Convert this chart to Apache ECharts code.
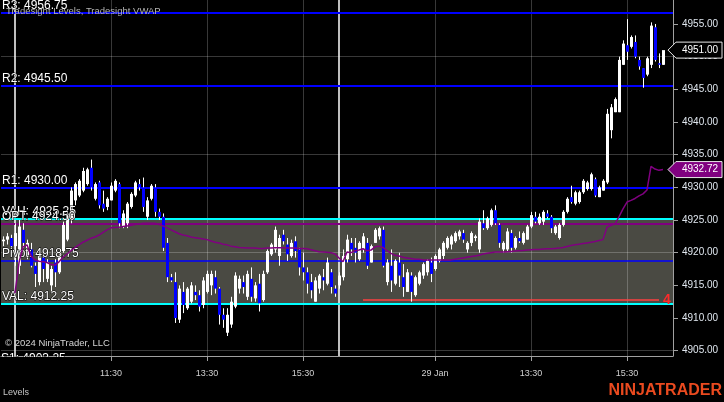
<!DOCTYPE html>
<html><head><meta charset="utf-8">
<script src="https://cdn.jsdelivr.net/npm/echarts@6/dist/echarts.min.js"></script>
<style>html,body{margin:0;padding:0;background:#000;}#c{width:724px;height:402px;}</style>
</head><body><div id="c"></div>
<script>
// [open, high, low, close] per 5-minute bar
const ohlc = [
[4921.75,4922.5,4921,4922],[4922,4923,4921.25,4922.5],[4922.25,4922.75,4920.5,4921],[4921,4924.5,4918,4923],
[4918,4925,4916.75,4924],[4923.5,4924.5,4920.75,4921.5],[4919.5,4922,4919,4921.5],[4920.5,4921.5,4917.75,4918],
[4918,4918.5,4914.75,4916.75],[4915.5,4920,4915,4919.5],[4919.25,4920,4915.5,4917.5],[4916,4919,4915.5,4918.5],
[4915,4918,4914,4917.5],[4918.5,4919,4914.75,4917],[4917,4919.75,4916.75,4919.5],[4920.25,4924.75,4920,4924.25],
[4922,4926.5,4921.75,4926],[4925,4930,4924.5,4929.5],[4928,4930.75,4927.25,4930.5],[4928.75,4931.25,4928.5,4931],
[4929.5,4933,4929.25,4932.5],[4930.5,4933,4930.25,4932.75],[4933,4934.25,4929.5,4930],[4928.25,4930.75,4928,4930.5],
[4930.75,4931,4926.75,4927.25],[4927.5,4929.5,4926.25,4926.75],[4927,4928.5,4926.5,4928.25],[4928,4930.75,4928,4930.25],
[4929.5,4931.25,4929.25,4931],[4930.5,4930.75,4923.75,4924.5],[4924,4926.5,4923.75,4926],[4924.5,4927.75,4923.75,4927.5],
[4927,4929.25,4926.75,4929],[4928.75,4931,4928.5,4930.75],[4930.5,4931.25,4929.5,4930],[4930,4931.5,4926.25,4927],
[4925.5,4928.5,4925,4928],[4928.25,4930.5,4928,4930.25],[4930,4930.5,4925.5,4926.25],[4926.25,4926.75,4925,4925.5],
[4925.5,4926,4920.25,4920.75],[4921.5,4922.25,4915.5,4916.25],[4916.25,4916.75,4915.5,4915.75],[4915.5,4917,4909.25,4910],
[4909.75,4915,4909.25,4914.5],[4914,4915.5,4910.75,4912],[4911.5,4914.75,4911.25,4914.5],[4912.5,4915.5,4912.25,4915],
[4914,4915,4912.75,4913.5],[4913.5,4914.25,4911,4911.75],[4912,4916.25,4911.5,4915.75],[4914,4917.25,4913.75,4916.75],
[4915,4917.25,4913.5,4916.75],[4916.25,4917.25,4913.75,4914.5],[4914.5,4914.75,4909,4910.5],[4910.5,4911.5,4908.5,4909.75],
[4907.75,4911.5,4907.25,4910.5],[4909,4913.25,4908.5,4912.5],[4911.75,4917,4911.5,4916.5],[4914.5,4916.5,4913.75,4916],
[4915.5,4916.5,4913.75,4914.75],[4913.25,4917.25,4912.75,4916.75],[4916,4917.75,4912.5,4913.25],[4913,4915.5,4912.5,4915],
[4915.25,4916.75,4911,4912.25],[4912.75,4917.25,4912.5,4916.75],[4917,4920.5,4916.75,4920.25],[4919.75,4921.5,4919.5,4921.25],
[4920.5,4924,4920,4923.5],[4919.5,4922.75,4918,4922.25],[4922.75,4923.5,4921.25,4921.75],[4921.25,4922.25,4918.75,4919.75],
[4919.5,4922,4919.25,4921.5],[4921.75,4922.5,4919.25,4920.25],[4920.5,4920.75,4916.5,4917.75],[4917.75,4920,4915.75,4917],
[4917,4917.75,4913.75,4915.25],[4915.5,4916.75,4913,4914.25],[4912.5,4916.25,4912.5,4915.75],[4914.5,4916.75,4913.75,4916.5],
[4916.25,4917.5,4914.25,4915.75],[4915.25,4919.25,4915,4918.5],[4917,4917.5,4913.75,4914.75],[4914.5,4915,4913.25,4913.75],
[4915,4917,4914.5,4916.5],[4916.25,4920.5,4915.75,4919.5],[4919,4922.75,4918.5,4922],[4921.5,4922.25,4919.5,4920.5],
[4920.75,4922.25,4918.5,4920],[4919,4921.75,4918.75,4921.5],[4920.5,4923,4920,4922.5],[4921.5,4922.25,4917.5,4918],
[4918.5,4921.25,4918.5,4921],[4921.5,4923.75,4921.5,4923.5],[4922.5,4924,4922,4923.75],[4923.5,4924,4917.75,4918],
[4915.5,4919,4915,4918.5],[4918,4920.5,4914,4915.75],[4915.25,4919,4915,4918.75],[4918.5,4920,4914.75,4916.5],
[4916.25,4918.25,4913.25,4914.75],[4914,4917.5,4914,4917],[4916.5,4917,4912.5,4914],[4913.5,4916.5,4913.25,4916.25],
[4915.25,4917.25,4915,4917],[4916.5,4918.5,4916,4918.25],[4917,4919,4916.5,4918.75],[4918.5,4919.25,4915.5,4916.75],
[4917.5,4919.75,4917.25,4919.5],[4918.75,4920.75,4918.5,4920.5],[4919.5,4921.75,4919,4921.5],[4920.75,4922.5,4920.5,4922.25],
[4921.25,4922.75,4920.5,4922.5],[4921.75,4923.25,4921.5,4923],[4922.5,4923.5,4922,4923.25],[4923,4923.5,4921.5,4922],
[4920.5,4921.75,4920,4921.5],[4921.5,4923.25,4921,4923],[4922.25,4922.75,4921.75,4922.5],[4920.5,4925.25,4920,4924.75],
[4924.5,4926.5,4923.5,4923.75],[4923.75,4925.5,4923.5,4925.25],[4924.25,4926.75,4924,4926.5],[4926.5,4927.25,4924.25,4924.5],
[4924.25,4924.5,4920.75,4921.5],[4920.5,4921.75,4920,4921.5],[4920.5,4923.75,4920.25,4923.25],[4923,4923.5,4920,4920.75],
[4920.75,4922.5,4920.5,4922.25],[4922.25,4923.25,4921.5,4921.75],[4921.5,4923.25,4921.25,4923],[4922,4924.25,4922,4924],
[4924,4926.25,4923.75,4925.75],[4925.5,4926.25,4924.5,4924.75],[4924.5,4926,4924.25,4925.5],[4924.75,4926.5,4924.25,4926.25],
[4926,4926.5,4925.25,4925.5],[4925.5,4925.75,4923,4923.75],[4923,4924.25,4922.75,4924],[4922.25,4924.5,4922,4924.25],
[4924.25,4926.5,4924,4926.25],[4926.25,4928.5,4926,4928.25],[4928.5,4930.25,4927.5,4927.75],[4927.5,4929.5,4927.25,4929.25],
[4927.75,4929.5,4927.5,4929.25],[4929.25,4931.25,4929,4931],[4929.75,4931,4929.5,4930.75],[4929.75,4932.25,4929.5,4932],
[4931.25,4931.5,4928.5,4928.75],[4928.5,4930.25,4928.5,4930],[4929.5,4931.25,4929.5,4931],[4930.75,4942,4930.5,4941.25],
[4938.75,4942.75,4937.5,4942.25],[4941.5,4943.75,4941.5,4943.5],[4941.5,4950,4941.5,4949.5],[4948.75,4952.5,4948.75,4952],
[4951.75,4955.75,4949.5,4950.75],[4951.5,4953.25,4951.25,4953],[4952.25,4953.25,4949.75,4950],[4949.5,4950,4948,4948.5],
[4948.25,4948.25,4945.25,4946.75],[4947.25,4950,4947,4949.75],[4948.75,4955.25,4948.25,4954.75],[4954.5,4955,4949.25,4949.5],
[4949,4950.5,4948.25,4948.75],[4948.75,4950.75,4948.75,4951]
];
const vwap = [null,null,null,
4913.8,4918.5,4920.9,4921.2,4919.5,4918.9,4918.7,4918.6,4918.5,4918.2,4918.1,4918.6,4919.3,4919.8,4920.3,4920.8,
4921.2,4921.6,4921.9,4922.2,4922.4,4922.7,4923.1,4923.5,4923.8,4923.85,4923.9,4924.0,4924.1,4924.2,4924.3,4924.4,
4924.5,4924.5,4924.5,4924.5,4924.3,4924.1,4923.8,4923.5,4923.2,4922.9,4922.7,4922.6,4922.4,4922.3,4922.2,4922.1,
4922.0,4921.8,4921.6,4921.5,4921.3,4921.2,4921.0,4920.9,4920.8,4920.75,4920.7,4920.7,4920.7,4920.65,4920.65,4920.7,
4920.7,4920.75,4920.75,4920.75,4920.7,4920.7,4920.7,4920.65,4920.65,4920.6,4920.45,4920.3,4920.15,4920.1,4920.05,4920.0,4919.8,
4919.2,4918.6,4920.1,4920.0,4920.3,4920.4,4920.6,4920.3,4920.4,4920.9,4921.0,4920.8,4920.3,4919.9,4919.6,4919.5,
4919.3,4919.2,4919.1,4919.0,4919.0,4918.9,4918.9,4918.9,4918.9,4918.9,4918.9,4918.9,4918.9,4919.0,4919.1,4919.2,
4919.3,4919.4,4919.5,4919.6,4919.8,4919.9,4920.0,4920.1,4920.1,4920.1,4920.15,4920.2,4920.25,4920.3,4920.35,4920.4,
4920.45,4920.5,4920.5,4920.55,4920.6,4920.6,4920.65,4920.7,4920.8,4920.95,4921.1,4921.2,4921.3,4921.4,4921.5,4921.6,
4921.7,4921.85,4922.0,4923.9,4924.2,4924.4,4925.5,4926.7,4927.75,4928.0,4928.3,4928.7,4929.0,4929.6,4933.2,4932.8,
4932.6,4932.72
];
const categoryCount = 168;
const tickIndex = [27, 51, 75, 108, 132, 156];
const tickLabels = ['11:30', '13:30', '15:30', '29 Jan', '13:30', '15:30'];
const priceTicks = [4905, 4910, 4915, 4920, 4925, 4930, 4935, 4940, 4945, 4950, 4955];
const gridPrices = [4950, 4935, 4920, 4905];
const levelNames = ['R3', 'R2', 'R1', 'VAH', 'OPT', 'Pivot', 'VAL'];
const levelValues = [4956.75, 4945.50, 4930.00, 4925.25, 4924.50, 4918.75, 4912.25];
const s1Name = 'S1', s1Value = 4903.25;
const sessionStarts = [3, 84];
const redLevel = 4912.75, redFrom = 90, redTo = 164;
const lastPrice = 4951.00, vwapLast = 4932.72;

const FONT = 'Liberation Sans, Arial, sans-serif';
const levelStyle = {
  R3: ['#0000ff', 2], R2: ['#0000ff', 2], R1: ['#0000ff', 2],
  VAH: ['#00ffff', 2], OPT: ['#800080', 2], Pivot: ['#0000ff', 1.5], VAL: ['#00ffff', 2]
};
const categories = Array.from({length: categoryCount}, (_, i) => i);
const showTick = (i) => tickIndex.indexOf(Number(i)) >= 0;

const chart = echarts.init(document.getElementById('c'), null, {renderer: 'canvas'});
chart.setOption({
  backgroundColor: '#000',
  animation: false,
  grid: {left: 1, top: 0, width: 672, height: 356},
  xAxis: {
    type: 'category', data: categories, boundaryGap: true,
    axisLine: {show: true, lineStyle: {color: '#a0a0a0', width: 1}},
    axisTick: {show: true, alignWithLabel: true, length: 5, interval: (i) => showTick(i), lineStyle: {color: '#a0a0a0'}},
    axisLabel: {interval: (i) => showTick(i), margin: 13, color: '#d0d0d0', fontSize: 9, fontFamily: FONT,
      formatter: (v) => { const j = tickIndex.indexOf(Number(v)); return j >= 0 ? tickLabels[j] : ''; }},
    splitLine: {show: false}
  },
  yAxis: {
    type: 'value', position: 'right', min: 4904.19, max: 4958.67, scale: true,
    axisLine: {show: true, lineStyle: {color: '#a0a0a0', width: 1}},
    axisTick: {show: true, length: 5, customValues: priceTicks, lineStyle: {color: '#a0a0a0'}},
    axisLabel: {customValues: priceTicks, margin: 9, color: '#dfe6ee', fontSize: 10, fontFamily: FONT,
      formatter: (v) => Number(v).toFixed(2)},
    splitLine: {show: false}
  },
  series: [
    { type: 'line', data: [], z: 1, silent: true,
      markArea: {silent: true, itemStyle: {color: '#4a4a43'},
        data: [[{yAxis: levelValues[levelNames.indexOf('VAH')]}, {yAxis: levelValues[levelNames.indexOf('VAL')]}]]}},
    { type: 'line', data: [], z: 2, silent: true,
      markLine: {silent: true, symbol: 'none', label: {show: false},
        lineStyle: {color: 'rgba(255,255,255,0.22)', width: 1, type: 'solid'},
        data: gridPrices.map(v => ({yAxis: v})).concat(tickIndex.map(i => ({xAxis: i})))}},
    { type: 'line', data: [], z: 3, silent: true,
      markLine: {silent: true, symbol: 'none', label: {show: false},
        lineStyle: {color: '#ffffff', width: 1.5, type: 'solid'},
        data: sessionStarts.map(i => ({xAxis: i}))}},
    { type: 'custom', z: 5, silent: true,
      data: ohlc.map((d, i) => [i, d[0], d[1], d[2], d[3]]),
      encode: {x: 0, y: [1, 2, 3, 4]},
      renderItem: function (params, api) {
        const i = api.value(0), o = api.value(1), h = api.value(2), l = api.value(3), c = api.value(4);
        const pH = api.coord([i, h]), pL = api.coord([i, l]), pO = api.coord([i, o]), pC = api.coord([i, c]);
        const x = Math.round(pH[0]);
        const top = Math.min(pO[1], pC[1]), bot = Math.max(pO[1], pC[1]);
        return {type: 'group', children: [
          {type: 'line', shape: {x1: x + 0.5, y1: pH[1], x2: x + 0.5, y2: pL[1]}, style: {stroke: '#ffffff', lineWidth: 1}},
          {type: 'rect', shape: {x: x - 1, y: top, width: 3, height: Math.max(bot - top, 1)}, style: {fill: c >= o ? '#ffffff' : '#0000ff'}}
        ]};
      }
    },
    { type: 'line', data: vwap, z: 6, symbol: 'none', silent: true, connectNulls: false,
      lineStyle: {color: '#800080', width: 1.5}},
    { type: 'line', data: [], z: 7, silent: true,
      markLine: {silent: true, symbol: 'none',
        data: levelNames.map((n, j) => ({
          yAxis: levelValues[j],
          lineStyle: {color: levelStyle[n][0], width: levelStyle[n][1], type: 'solid'},
          label: {show: true, position: 'insideStartTop', distance: [1, 1],
            formatter: n + ': ' + levelValues[j].toFixed(2),
            color: '#ffffff', fontSize: 12, fontFamily: FONT, textBorderColor: '#000', textBorderWidth: 1}
        }))}},
    { type: 'line', data: [], z: 7, silent: true,
      markLine: {silent: true, symbol: 'none',
        lineStyle: {color: '#ff4040', width: 1.5, type: 'solid'},
        label: {show: true, position: 'end', distance: 4, formatter: '4', color: '#ff2a2a', fontSize: 14, fontWeight: 'bold', fontFamily: FONT},
        data: [[{coord: [redFrom, redLevel]}, {coord: [redTo, redLevel]}]]}}
  ]
});

// annotations positioned from the axis scale
const yLast = chart.convertToPixel({yAxisIndex: 0}, lastPrice);
const yV = chart.convertToPixel({yAxisIndex: 0}, vwapLast);
const yS1 = chart.convertToPixel({yAxisIndex: 0}, s1Value);
function tag(y, fill, text) {
  return [
    {type: 'polygon', z: 100, shape: {points: [[668, y], [676, y - 8], [722, y - 8], [722, y + 8], [676, y + 8]]},
      style: {fill: fill, stroke: '#e8e8e8', lineWidth: 1}},
    {type: 'text', z: 101, x: 700, y: y, style: {text: text, fill: '#ffffff', font: '10px ' + FONT, align: 'center', verticalAlign: 'middle'}}
  ];
}
chart.setOption({
  graphic: [
    {type: 'text', z: 50, x: 6, y: 11, style: {text: 'Tradesight Levels, Tradesight VWAP', fill: '#b4b4b4', font: '9.5px ' + FONT, verticalAlign: 'middle'}},
    {type: 'text', z: 50, x: 1, y: yS1 + 3, style: {text: s1Name + ': ' + s1Value.toFixed(2), fill: '#ffffff', font: '12px ' + FONT, verticalAlign: 'bottom', stroke: '#000', lineWidth: 1}},
    {type: 'rect', z: 60, shape: {x: 0, y: 357, width: 90, height: 14}, style: {fill: '#000'}},
    {type: 'text', z: 50, x: 5, y: 343, style: {text: '\u00a9 2024 NinjaTrader, LLC', fill: '#d4d4d4', font: '9.5px ' + FONT, verticalAlign: 'middle'}},
    {type: 'text', z: 50, x: 3, y: 393, style: {text: 'Levels', fill: '#c4c4c4', font: '9px ' + FONT, verticalAlign: 'middle'}},
    {type: 'text', z: 50, x: 722, y: 391, style: {text: 'NINJATRADER', fill: '#ea4a1f', font: 'bold 16px ' + FONT, align: 'right', verticalAlign: 'middle'}}
  ].concat(tag(yLast, '#000000', lastPrice.toFixed(2))).concat(tag(yV, '#800080', vwapLast.toFixed(2)))
});
</script></body></html>
